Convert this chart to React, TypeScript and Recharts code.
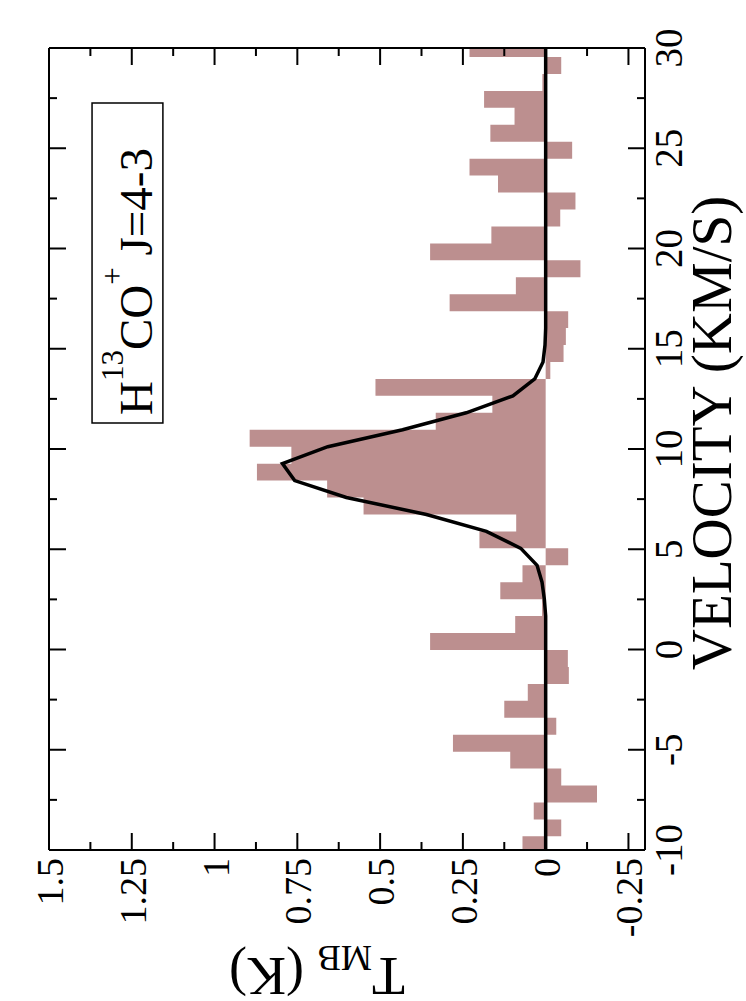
import React from "react";
import {
  ComposedChart,
  Area,
  Line,
  XAxis,
  YAxis,
  ReferenceArea,
} from "recharts";

// channel edges (km/s)
const velocity = [
  -10.165, -9.32, -8.475, -7.63, -6.785, -5.94, -5.095, -4.25, -3.405, -2.56,
  -1.715, -0.87, -0.025, 0.82, 1.665, 2.51, 3.355, 4.2, 5.045, 5.89, 6.735,
  7.58, 8.425, 9.27, 10.115, 10.96, 11.805, 12.65, 13.495, 14.34, 15.185,
  16.03, 16.875, 17.72, 18.565, 19.41, 20.255, 21.1, 21.945, 22.79, 23.635,
  24.48, 25.325, 26.17, 27.015, 27.86, 28.705, 29.55, 30.395,
];

// observed T_MB per channel (K)
const tmb = [
  0.07, -0.047, 0.036, -0.155, -0.047, 0.107, 0.28, -0.032, 0.125, 0.054,
  -0.07, -0.067, 0.349, 0.092, 0.011, 0.137, 0.07, -0.068, 0.2, 0.089, 0.55,
  0.66, 0.872, 0.768, 0.894, 0.332, 0.161, 0.514, -0.014, -0.054, -0.061,
  -0.068, 0.29, 0.09, -0.105, 0.349, 0.164, -0.044, -0.09, 0.144, 0.23, -0.08,
  0.167, 0.094, 0.186, 0.01, -0.047, 0.23,
];

// gaussian fit (K)
const fit = [
  0, 0, 0, 0, 0, 0, 0, 0, 0, 0, 0, 0, 0, 0, 0, 0.004, 0.011, 0.026, 0.075,
  0.179, 0.36, 0.602, 0.758, 0.795, 0.658, 0.432, 0.24, 0.099, 0.033, 0.008,
  0.002, 0, 0, 0, 0, 0, 0, 0, 0, 0, 0, 0, 0, 0, 0, 0, 0, 0, 0,
];

const velocityTicks = [
  -10, -7.5, -5, -2.5, 0, 2.5, 5, 7.5, 10, 12.5, 15, 17.5, 20, 22.5, 25, 27.5, 30,
];
const tmbTicks = [
  -0.25, -0.125, 0, 0.125, 0.25, 0.375, 0.5, 0.625, 0.75, 0.875, 1, 1.125,
  1.25, 1.375, 1.5,
];

const rows = velocity.map((v, i) => ({
  v,
  t: tmb[i] ?? tmb[tmb.length - 1],
  fit: fit[i],
}));

const FONT = "'Liberation Serif', 'Times New Roman', serif";
const W = 1001;
const H = 746;

const isMajorV = (v: number) => Math.abs(v % 5) < 1e-6;
const isMajorT = (t: number) => Math.abs(t * 4 - Math.round(t * 4)) < 1e-6;

function VelTick({ x, y, payload }: any) {
  const major = isMajorV(payload.value);
  return (
    <g>
      <line x1={x} x2={x} y1={y} y2={y - (major ? 17 : 8)} stroke="#000" strokeWidth={2} />
      {major && (
        <text x={x} y={y + 37} textAnchor="middle" fontSize={39} fontFamily={FONT} fill="#000">
          {payload.value}
        </text>
      )}
    </g>
  );
}

function VelTickTop({ x, y, payload }: any) {
  const major = isMajorV(payload.value);
  return <line x1={x} x2={x} y1={y} y2={y + (major ? 17 : 8)} stroke="#000" strokeWidth={2} />;
}

function TTick({ x, y, payload }: any) {
  const major = isMajorT(payload.value);
  return (
    <g>
      <line x1={x} x2={x + (major ? 17 : 8)} y1={y} y2={y} stroke="#000" strokeWidth={2} />
      {major && (
        <text x={x - 8} y={y + 14} textAnchor="end" fontSize={38} fontFamily={FONT} fill="#000">
          {payload.value}
        </text>
      )}
    </g>
  );
}

function TTickRight({ x, y, payload }: any) {
  const major = isMajorT(payload.value);
  return <line x1={x} x2={x - (major ? 17 : 8)} y1={y} y2={y} stroke="#000" strokeWidth={2} />;
}

function XLabel({ viewBox }: any) {
  const cx = viewBox.x + viewBox.width / 2 + 16;
  return (
    <text x={cx} y={viewBox.y + 86} textAnchor="middle" fontSize={57} fontFamily={FONT} fill="#000">
      VELOCITY (KM/S)
    </text>
  );
}

function YLabel({ viewBox }: any) {
  const bx = viewBox.x - 8;
  const cy = viewBox.y + viewBox.height / 2 - 30;
  return (
    <text
      x={bx}
      y={cy}
      transform={`rotate(-90, ${bx}, ${cy})`}
      textAnchor="middle"
      fontSize={54}
      fontFamily={FONT}
      fill="#000"
    >
      T<tspan fontSize={35} dy={12}>MB</tspan>
      <tspan dy={-12}> (K)</tspan>
    </text>
  );
}

function TitleLabel({ viewBox }: any) {
  const x = viewBox.x + 8;
  const y = viewBox.y + viewBox.height - 11;
  return (
    <text x={x} y={y} fontSize={47} fontFamily={FONT} fill="#000">
      H<tspan fontSize={31} dy={-29}>13</tspan>
      <tspan dy={29}>CO</tspan>
      <tspan fontSize={31} dy={-29}>+</tspan>
      <tspan dy={29}> J=4-3</tspan>
    </text>
  );
}

export default function App() {
  return (
    <div
      style={{
        position: "absolute",
        left: 0,
        top: 0,
        width: 746,
        height: 1001,
        overflow: "hidden",
        background: "#fff",
      }}
    >
      <div
        style={{
          position: "absolute",
          left: 0,
          top: 0,
          width: W,
          height: H,
          transformOrigin: "0 0",
          transform: `translateY(${W}px) rotate(-90deg)`,
        }}
      >
        <ComposedChart
          width={W}
          height={H}
          data={rows}
          margin={{ top: 48, right: 47, bottom: 0, left: 51 }}
        >
          <XAxis
            dataKey="v"
            type="number"
            domain={[-10, 30]}
            allowDataOverflow
            ticks={velocityTicks}
            interval={0}
            tickSize={0}
            tickMargin={0}
            tickLine={false}
            tick={<VelTick />}
            axisLine={{ stroke: "#000", strokeWidth: 2 }}
            height={101}
            label={<XLabel />}
          />
          <XAxis
            xAxisId="top"
            orientation="top"
            dataKey="v"
            type="number"
            domain={[-10, 30]}
            allowDataOverflow
            ticks={velocityTicks}
            interval={0}
            tickSize={0}
            tickMargin={0}
            tickLine={false}
            tick={<VelTickTop />}
            axisLine={{ stroke: "#000", strokeWidth: 2 }}
            height={1}
          />
          <YAxis
            type="number"
            domain={[-0.3, 1.5]}
            allowDataOverflow
            ticks={tmbTicks}
            interval={0}
            tickSize={0}
            tickMargin={0}
            tickLine={false}
            tick={<TTick />}
            axisLine={{ stroke: "#000", strokeWidth: 2 }}
            width={100}
            label={<YLabel />}
          />
          <YAxis
            yAxisId="right"
            orientation="right"
            type="number"
            domain={[-0.3, 1.5]}
            allowDataOverflow
            ticks={tmbTicks}
            interval={0}
            tickSize={0}
            tickMargin={0}
            tickLine={false}
            tick={<TTickRight />}
            axisLine={{ stroke: "#000", strokeWidth: 2 }}
            width={1}
          />
          <Area
            dataKey="t"
            type="stepAfter"
            baseValue={0}
            fill="#bc8f8f"
            fillOpacity={1}
            stroke="none"
            dot={false}
            activeDot={false}
            isAnimationActive={false}
          />
          <Line
            dataKey="fit"
            type="linear"
            stroke="#000"
            strokeWidth={3.5}
            dot={false}
            activeDot={false}
            isAnimationActive={false}
          />
          <Line
            xAxisId="top"
            yAxisId="right"
            dataKey="fit"
            stroke="none"
            dot={false}
            activeDot={false}
            legendType="none"
            isAnimationActive={false}
          />
          <ReferenceArea
            x1={11.3}
            x2={27.26}
            y1={1.156}
            y2={1.37}
            fill="#fff"
            fillOpacity={1}
            stroke="#000"
            strokeWidth={1.5}
            label={<TitleLabel />}
          />
        </ComposedChart>
      </div>
    </div>
  );
}
